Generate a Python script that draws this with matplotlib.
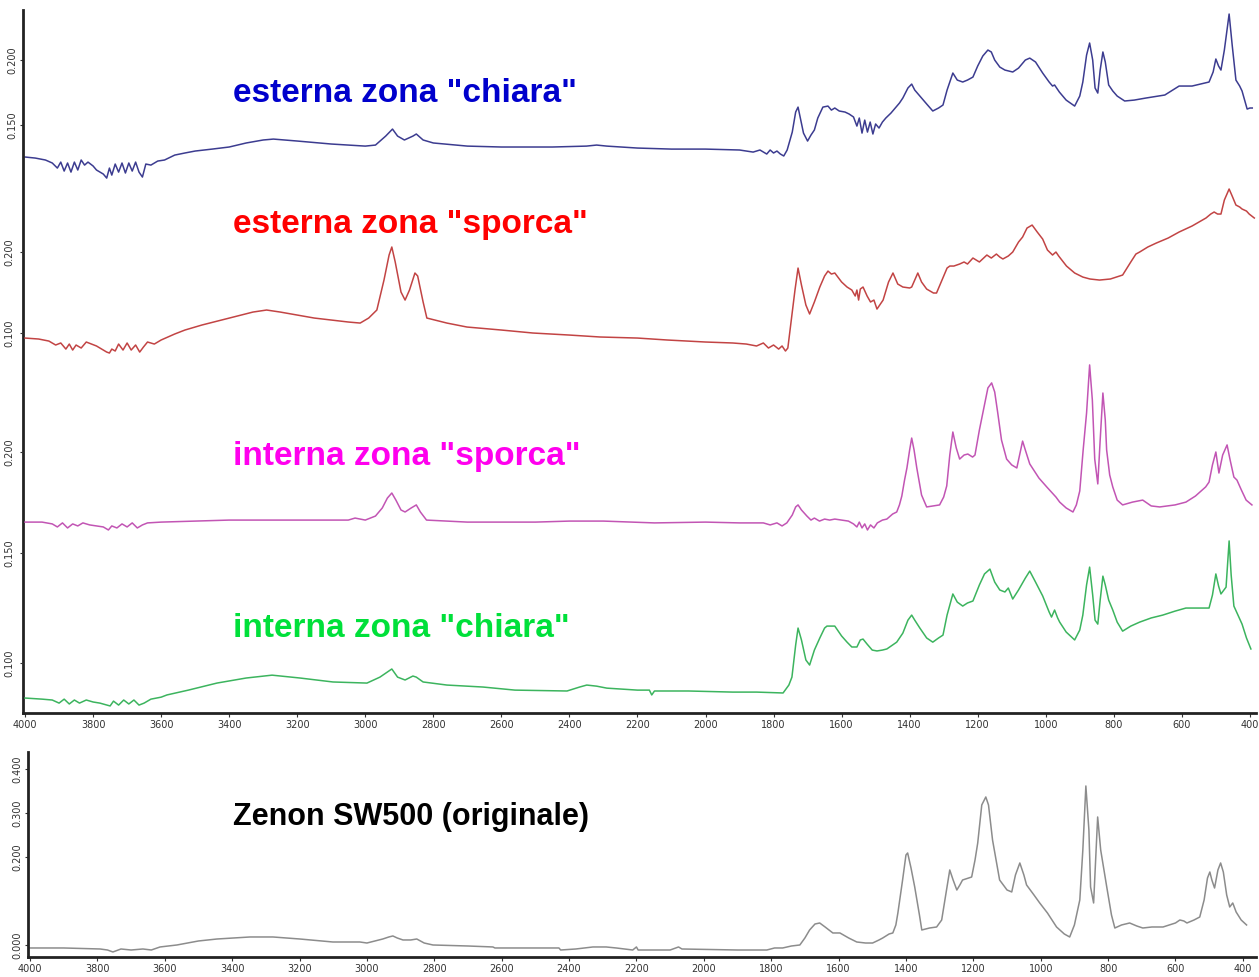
import matplotlib.pyplot as plt

# FTIR spectra, wavenumber (cm-1) vs absorbance

blue_esterna_chiara = [
    (4000, .1254), (3970, .1246), (3940, .1231), (3920, .1208), (3905, .1169), (3895, .1215),
    (3885, .1146), (3875, .1208), (3865, .1138), (3855, .1215), (3845, .1154), (3835, .1231),
    (3825, .1192), (3815, .1215), (3800, .1185), (3790, .1154), (3780, .1138), (3770, .1123),
    (3760, .1092), (3752, .1169), (3745, .1115), (3735, .1200), (3725, .1138), (3715, .1208),
    (3705, .1131), (3695, .1208), (3685, .1146), (3675, .1215), (3665, .1138), (3655, .1100),
    (3645, .1200), (3630, .1192), (3610, .1223), (3590, .1231), (3560, .1269), (3530, .1285),
    (3500, .1300), (3450, .1315), (3400, .1331), (3350, .1362), (3300, .1385), (3270, .1392),
    (3200, .1377), (3100, .1354), (3000, .1338), (2970, .1346), (2940, .1415), (2920, .1469),
    (2905, .1415), (2885, .1385), (2860, .1415), (2850, .1431), (2830, .1385), (2800, .1362),
    (2700, .1338), (2600, .1331), (2450, .1331), (2350, .1338), (2320, .1346), (2290, .1338),
    (2200, .1323), (2100, .1315), (2000, .1315), (1900, .1308), (1860, .1292), (1840, .1308),
    (1820, .1277), (1810, .1308), (1800, .1285), (1790, .1300), (1780, .1277), (1770, .1262),
    (1760, .1308), (1745, .1446), (1735, .1600), (1728, .1638), (1720, .1538), (1712, .1438),
    (1700, .1377), (1690, .1423), (1680, .1462), (1670, .1554), (1655, .1638), (1640, .1646),
    (1630, .1615), (1620, .1631), (1607, .1608), (1590, .1600), (1578, .1585), (1565, .1562),
    (1555, .1492), (1548, .1554), (1540, .1438), (1532, .1538), (1524, .1446), (1516, .1523),
    (1508, .1431), (1500, .1508), (1490, .1477), (1480, .1523), (1470, .1554), (1455, .1592),
    (1445, .1623), (1430, .1669), (1420, .1708), (1405, .1785), (1394, .1815), (1385, .1769),
    (1370, .1723), (1350, .1662), (1332, .1608), (1315, .1631), (1302, .1654), (1290, .1769),
    (1273, .1900), (1260, .1846), (1244, .1831), (1230, .1846), (1214, .1869), (1200, .1954),
    (1185, .2031), (1170, .2077), (1160, .2062), (1150, .2000), (1135, .1946), (1120, .1923),
    (1097, .1908), (1080, .1938), (1060, .2000), (1047, .2015), (1030, .1985), (1009, .1900),
    (990, .1831), (980, .1800), (974, .1808), (960, .1754), (940, .1692), (915, .1646),
    (900, .1723), (891, .1831), (880, .2038), (871, .2131), (862, .2000), (855, .1785),
    (847, .1746), (840, .1923), (832, .2062), (825, .1985), (815, .1808), (803, .1762),
    (790, .1723), (768, .1685), (740, .1692), (705, .1708), (650, .1731), (608, .1800),
    (570, .1800), (520, .1831), (508, .1908), (500, .2008), (492, .1954), (485, .1923),
    (475, .2077), (461, .2354), (452, .2115), (441, .1846), (430, .1800), (423, .1762),
    (408, .1623), (400, .1631), (393, .1631),
]

red_esterna_sporca = [
    (4000, .0938), (3960, .0926), (3930, .0901), (3910, .0852), (3895, .0877), (3880, .0802),
    (3870, .0864), (3860, .0790), (3850, .0852), (3835, .0815), (3820, .0889), (3805, .0864),
    (3790, .0840), (3775, .0802), (3760, .0765), (3752, .0753), (3745, .0802), (3735, .0778),
    (3725, .0864), (3712, .0790), (3700, .0877), (3688, .0790), (3675, .0852), (3663, .0765),
    (3652, .0827), (3640, .0889), (3620, .0864), (3600, .0914), (3560, .0988), (3530, .1037),
    (3480, .1099), (3400, .1185), (3330, .1259), (3290, .1284), (3250, .1259), (3150, .1185),
    (3050, .1136), (3015, .1123), (2990, .1185), (2966, .1284), (2945, .1654), (2930, .1963),
    (2922, .2062), (2912, .1877), (2895, .1506), (2883, .1407), (2870, .1531), (2854, .1741),
    (2846, .1704), (2830, .1383), (2819, .1185), (2760, .1123), (2701, .1074), (2600, .1037),
    (2507, .1000), (2400, .0975), (2310, .0951), (2200, .0938), (2113, .0914), (2000, .0889),
    (1920, .0877), (1880, .0864), (1850, .0840), (1830, .0877), (1815, .0815), (1800, .0852),
    (1785, .0802), (1775, .0840), (1765, .0778), (1758, .0815), (1748, .1160), (1737, .1531),
    (1728, .1802), (1718, .1593), (1705, .1346), (1694, .1235), (1680, .1383), (1664, .1568),
    (1650, .1704), (1640, .1765), (1630, .1728), (1620, .1741), (1600, .1630), (1584, .1568),
    (1570, .1531), (1560, .1457), (1555, .1531), (1550, .1407), (1545, .1543), (1537, .1568),
    (1525, .1457), (1515, .1383), (1505, .1407), (1496, .1296), (1488, .1346), (1478, .1407),
    (1462, .1630), (1449, .1741), (1435, .1605), (1420, .1568), (1400, .1556), (1394, .1568),
    (1385, .1654), (1376, .1741), (1365, .1630), (1350, .1543), (1330, .1494), (1321, .1494),
    (1305, .1654), (1290, .1802), (1282, .1827), (1270, .1827), (1253, .1852), (1240, .1877),
    (1230, .1852), (1214, .1926), (1195, .1877), (1173, .1963), (1160, .1926), (1145, .1975),
    (1135, .1938), (1126, .1914), (1110, .1951), (1097, .2000), (1080, .2123), (1068, .2185),
    (1055, .2296), (1040, .2333), (1025, .2247), (1009, .2160), (995, .2025), (980, .1963),
    (970, .2000), (962, .1951), (939, .1827), (915, .1741), (891, .1691), (870, .1667),
    (842, .1654), (810, .1667), (774, .1716), (750, .1877), (735, .1975), (724, .2000),
    (700, .2062), (675, .2111), (640, .2173), (608, .2247), (570, .2321), (529, .2420),
    (515, .2469), (505, .2494), (495, .2469), (485, .2469), (475, .2642), (461, .2778),
    (452, .2691), (441, .2580), (430, .2556), (423, .2531), (410, .2506), (402, .2469),
    (387, .2420),
]

magenta_interna_sporca = [
    (4000, .1653), (3950, .1653), (3920, .1644), (3905, .1629), (3890, .1649), (3875, .1624),
    (3860, .1644), (3845, .1634), (3830, .1649), (3810, .1639), (3790, .1634), (3770, .1629),
    (3755, .1614), (3745, .1634), (3730, .1624), (3715, .1644), (3700, .1629), (3685, .1649),
    (3670, .1624), (3655, .1639), (3640, .1649), (3600, .1653), (3500, .1658), (3400, .1663),
    (3200, .1663), (3100, .1663), (3050, .1663), (3030, .1673), (3000, .1663), (2970, .1683),
    (2950, .1723), (2935, .1772), (2922, .1797), (2910, .1762), (2895, .1713), (2883, .1703),
    (2865, .1723), (2850, .1738), (2838, .1703), (2820, .1663), (2700, .1653), (2500, .1653),
    (2400, .1658), (2300, .1658), (2150, .1649), (2000, .1653), (1900, .1649), (1830, .1649),
    (1810, .1639), (1790, .1649), (1775, .1634), (1761, .1649), (1745, .1688), (1735, .1728),
    (1728, .1738), (1718, .1713), (1702, .1683), (1690, .1663), (1680, .1673), (1665, .1658),
    (1650, .1668), (1635, .1663), (1620, .1668), (1600, .1663), (1580, .1658), (1565, .1644),
    (1555, .1629), (1548, .1653), (1540, .1624), (1532, .1644), (1524, .1614), (1515, .1639),
    (1505, .1624), (1495, .1649), (1480, .1663), (1467, .1668), (1450, .1693), (1438, .1703),
    (1430, .1738), (1423, .1782), (1415, .1861), (1408, .1921), (1400, .2010), (1394, .2069),
    (1387, .2010), (1379, .1921), (1365, .1787), (1350, .1728), (1330, .1733), (1312, .1738),
    (1300, .1777), (1291, .1832), (1282, .1985), (1273, .2099), (1263, .2020), (1253, .1965),
    (1240, .1985), (1229, .1990), (1215, .1975), (1208, .1985), (1195, .2109), (1185, .2193),
    (1170, .2317), (1159, .2342), (1150, .2297), (1141, .2193), (1130, .2059), (1115, .1965),
    (1100, .1936), (1085, .1921), (1075, .2000), (1068, .2054), (1060, .2010), (1047, .1941),
    (1020, .1871), (997, .1827), (970, .1777), (959, .1752), (940, .1723), (920, .1703),
    (910, .1738), (900, .1807), (890, .2010), (880, .2193), (871, .2431), (863, .2257),
    (856, .1965), (847, .1842), (840, .2059), (832, .2292), (825, .2158), (821, .2010),
    (812, .1886), (803, .1827), (790, .1762), (774, .1738), (745, .1752), (715, .1762),
    (690, .1733), (665, .1728), (620, .1738), (588, .1752), (560, .1782), (530, .1827),
    (520, .1851), (510, .1936), (500, .2000), (494, .1931), (491, .1896), (480, .1985),
    (467, .2035), (458, .1960), (447, .1876), (438, .1861), (425, .1812), (411, .1762),
    (394, .1738),
]

green_interna_chiara = [
    (4000, .0841), (3950, .0836), (3920, .0832), (3900, .0818), (3885, .0836), (3870, .0814),
    (3855, .0832), (3840, .0818), (3820, .0832), (3800, .0823), (3780, .0818), (3760, .0809),
    (3750, .0805), (3740, .0827), (3725, .0809), (3710, .0832), (3695, .0814), (3680, .0832),
    (3665, .0809), (3650, .0818), (3630, .0836), (3600, .0845), (3583, .0855), (3520, .0877),
    (3436, .0909), (3350, .0932), (3274, .0945), (3192, .0932), (3095, .0914), (2995, .0909),
    (2957, .0936), (2922, .0973), (2905, .0936), (2883, .0923), (2860, .0941), (2850, .0936),
    (2830, .0914), (2760, .0900), (2654, .0891), (2560, .0877), (2407, .0873), (2370, .0891),
    (2349, .0900), (2320, .0895), (2290, .0886), (2200, .0877), (2165, .0877), (2158, .0855),
    (2150, .0873), (2050, .0873), (1920, .0868), (1850, .0868), (1772, .0864), (1755, .0900),
    (1746, .0936), (1735, .1082), (1728, .1159), (1718, .1105), (1705, .1014), (1694, .0991),
    (1680, .1059), (1664, .1114), (1650, .1159), (1643, .1168), (1620, .1168), (1600, .1123),
    (1584, .1095), (1570, .1073), (1555, .1073), (1545, .1105), (1537, .1109), (1525, .1086),
    (1510, .1059), (1496, .1055), (1480, .1059), (1467, .1064), (1450, .1082), (1438, .1095),
    (1420, .1136), (1405, .1195), (1394, .1218), (1385, .1195), (1370, .1159), (1350, .1114),
    (1332, .1095), (1315, .1114), (1302, .1127), (1290, .1218), (1273, .1314), (1260, .1277),
    (1244, .1259), (1230, .1273), (1214, .1282), (1195, .1355), (1180, .1405), (1164, .1427),
    (1150, .1368), (1135, .1332), (1120, .1323), (1110, .1341), (1097, .1291), (1080, .1332),
    (1060, .1386), (1047, .1418), (1030, .1368), (1009, .1305), (990, .1232), (983, .1209),
    (974, .1241), (965, .1205), (959, .1186), (940, .1141), (915, .1105), (900, .1150),
    (891, .1218), (880, .1355), (871, .1436), (862, .1309), (855, .1195), (847, .1177),
    (840, .1286), (832, .1395), (825, .1355), (815, .1286), (803, .1241), (790, .1186),
    (774, .1145), (750, .1168), (724, .1186), (690, .1205), (656, .1218), (620, .1236),
    (588, .1250), (550, .1250), (520, .1250), (510, .1309), (500, .1405), (492, .1350),
    (485, .1314), (470, .1345), (461, .1555), (455, .1400), (447, .1259), (435, .1218),
    (423, .1177), (410, .1114), (397, .1064),
]

gray_zenon_originale = [
    (4000, -.0068), (3900, -.0068), (3792, -.0091), (3770, -.0114), (3754, -.0159), (3730, -.0091),
    (3700, -.0114), (3665, -.0091), (3640, -.0114), (3614, -.0045), (3590, -.0023), (3564, .0000),
    (3500, .0091), (3445, .0136), (3347, .0182), (3279, .0182), (3199, .0136), (3101, .0068),
    (3021, .0068), (3000, .0045), (2953, .0136), (2935, .0182), (2923, .0205), (2910, .0159),
    (2893, .0114), (2870, .0114), (2852, .0136), (2830, .0045), (2804, .0000), (2700, -.0023),
    (2626, -.0045), (2620, -.0068), (2430, -.0068), (2425, -.0114), (2380, -.0091), (2329, -.0045),
    (2290, -.0045), (2260, -.0068), (2211, -.0114), (2200, -.0045), (2195, -.0114), (2100, -.0114),
    (2075, -.0045), (2065, -.0091), (1900, -.0114), (1813, -.0114), (1790, -.0068), (1766, -.0068),
    (1740, -.0023), (1715, .0000), (1700, .0159), (1686, .0341), (1670, .0477), (1656, .0500),
    (1640, .0409), (1617, .0273), (1596, .0273), (1570, .0159), (1546, .0068), (1520, .0045),
    (1499, .0045), (1480, .0114), (1469, .0159), (1450, .0250), (1439, .0273), (1430, .0455),
    (1424, .0727), (1410, .1477), (1400, .2045), (1395, .2091), (1385, .1750), (1374, .1318),
    (1360, .0682), (1353, .0341), (1330, .0386), (1309, .0409), (1294, .0568), (1282, .1136),
    (1270, .1705), (1260, .1477), (1249, .1250), (1240, .1364), (1232, .1477), (1205, .1545),
    (1195, .1932), (1187, .2318), (1175, .3182), (1163, .3364), (1155, .3182), (1143, .2386),
    (1130, .1818), (1122, .1477), (1100, .1250), (1086, .1205), (1075, .1591), (1062, .1864),
    (1050, .1591), (1042, .1364), (1020, .1136), (1003, .0955), (980, .0727), (953, .0409),
    (930, .0250), (914, .0182), (900, .0455), (884, .1023), (875, .2159), (866, .3614),
    (857, .2614), (852, .1318), (843, .0955), (837, .1932), (831, .2909), (822, .2159),
    (804, .1318), (790, .0682), (780, .0386), (760, .0455), (736, .0500), (715, .0432),
    (697, .0386), (670, .0409), (637, .0409), (600, .0500), (587, .0568), (575, .0545),
    (566, .0500), (545, .0568), (528, .0636), (515, .1023), (505, .1523), (498, .1659),
    (492, .1477), (484, .1295), (474, .1705), (466, .1864), (458, .1659), (448, .1136),
    (439, .0864), (430, .0955), (420, .0750), (405, .0568), (389, .0455),
]

xticks = list(range(4000, 399, -200))

W, H = 1259, 977
fig = plt.figure(figsize=(W / 100, H / 100), dpi=100)
fig.patch.set_facecolor('white')

top_rect = [23 / W, 1 - 713 / H, 1233 / W, 703 / H]
bot_rect = [28 / W, 1 - 957 / H, 1228 / W, 205 / H]

label_font = dict(family='Liberation Sans', weight='bold', fontsize=24)
tick_kw = dict(fontsize=7, color='#333333')


def style_frame(ax):
    for s in ('top', 'right'):
        ax.spines[s].set_visible(False)
    for s in ('left', 'bottom'):
        ax.spines[s].set_linewidth(2)
        ax.spines[s].set_color('#222222')
    ax.set_xticks(xticks)
    ax.set_xticklabels([str(t) for t in xticks], **tick_kw)
    ax.tick_params(axis='x', length=3, width=0.8, pad=2, colors='#333333')
    ax.tick_params(axis='y', length=2, width=0.8, pad=2, colors='#333333')


# stacked traces of the top panel: each one has its own absorbance scale
# (data, line colour, ylim, yticks, label, label colour, label y in axes fraction)
stack = [
    (blue_esterna_chiara, '#3c3c90', (-0.3023, 0.2385), [0.150, 0.200],
     'esterna zona "chiara"', '#0000cc', 0.869),
    (red_esterna_sporca, '#c24444', (-0.3691, 0.4988), [0.100, 0.200],
     'esterna zona "sporca"', '#ff0000', 0.683),
    (magenta_interna_sporca, '#c255b4', (0.0708, 0.4188), [0.200],
     'interna zona "sporca"', '#ff00ee', 0.353),
    (green_interna_chiara, '#3cb45e', (0.0773, 0.3968), [0.100, 0.150],
     'interna zona "chiara"', '#00e03a', 0.108),
]

base = fig.add_axes(top_rect)
style_frame(base)
base.set_xlim(4006, 382)

for i, (data, col, ylim, yt, label, lcol, ty) in enumerate(stack):
    if i == 0:
        ax = base
    else:
        ax = fig.add_axes(top_rect, sharex=base, label=f'trace{i}')
        ax.patch.set_visible(False)
        for s in ax.spines.values():
            s.set_visible(False)
        ax.tick_params(axis='x', bottom=False, labelbottom=False)
        ax.tick_params(axis='y', length=2, width=0.8, pad=4, colors='#333333')
    wn, a = zip(*data)
    ax.plot(wn, a, color=col, lw=1.1)
    ax.set_ylim(*ylim)
    ax.set_yticks(yt)
    ax.set_yticklabels([f'{t:.3f}' for t in yt], rotation=90, va='center', **tick_kw)
    base.text(0.170, ty, label, color=lcol, transform=base.transAxes, va='baseline', **label_font)

# reference spectrum
axb = fig.add_axes(bot_rect)
style_frame(axb)
wn, a = zip(*gray_zenon_originale)
axb.plot(wn, a, color='#8c8c8c', lw=1.1)
axb.set_xlim(4006, 361)
axb.set_ylim(-0.0273, 0.4386)
yb = [0.0, 0.2, 0.3, 0.4]
axb.set_yticks(yb)
axb.set_yticklabels([f'{t:.3f}' for t in yb], rotation=90, va='center', **tick_kw)
axb.text(0.167, 0.644, 'Zenon SW500 (originale)', color='black', transform=axb.transAxes,
         va='baseline', family='Liberation Sans', weight='bold', fontsize=22)

fig.savefig('out.png', dpi=100)
